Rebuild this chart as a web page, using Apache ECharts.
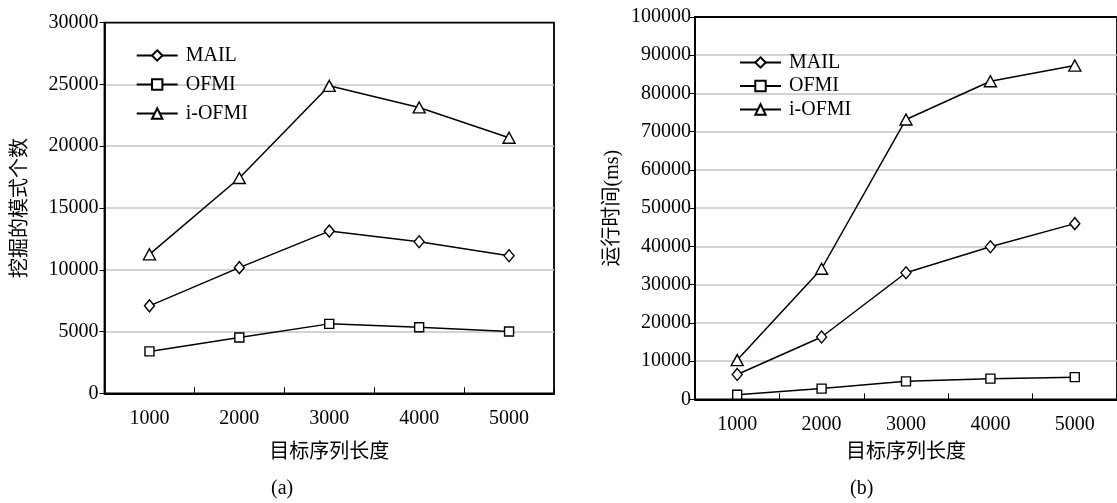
<!DOCTYPE html>
<html>
<head>
<meta charset="utf-8">
<script src="https://cdn.jsdelivr.net/npm/echarts@6/dist/echarts.min.js"></script>
<style>
html,body{margin:0;padding:0;background:#fff;}
#c{width:1117px;height:503px;}
</style>
</head>
<body>
<div id="c"></div>
<script>
const categories = ['1000', '2000', '3000', '4000', '5000'];
const seriesNames = ['MAIL', 'OFMI', 'i-OFMI'];
// (a) number of mined patterns
const countMAIL  = [7080, 10170, 13130, 12270, 11140];
const countOFMI  = [3390, 4520, 5620, 5350, 5000];
const countIOFMI = [11250, 17430, 24890, 23140, 20690];
// (b) running time (ms)
const timeMAIL  = [6500, 16300, 33100, 39900, 45950];
const timeOFMI  = [1200, 2800, 4700, 5400, 5800];
const timeIOFMI = [10250, 34150, 73200, 83200, 87300];

const yNameA = '挖掘的模式个数';
const yNameB = '运行时间(ms)';
const xName = '目标序列长度';

const FONT = '"Liberation Serif", "Noto Sans CJK SC", serif';
const FS = 20;
const symbols = {'MAIL': ['diamond', [10, 12]], 'OFMI': ['rect', [9, 9]], 'i-OFMI': ['triangle', [12, 11]]};

function mkSeries(name, data, idx) {
  return {
    name: name, type: 'line', xAxisIndex: idx, yAxisIndex: idx, data: data,
    symbol: symbols[name][0], symbolSize: symbols[name][1], showAllSymbol: true,
    lineStyle: {color: '#000', width: 1.5},
    itemStyle: {color: '#fff', borderColor: '#000', borderWidth: 1.4},
    emphasis: {disabled: true}, animation: false, z: 3
  };
}

function xAxis(idx, gap) {
  return {
    type: 'category', gridIndex: idx, data: categories, boundaryGap: true,
    name: xName, nameLocation: 'middle', nameGap: gap,
    nameTextStyle: {fontFamily: FONT, fontSize: FS, color: '#000'},
    axisLine: {lineStyle: {color: '#000', width: 1.8}},
    axisTick: {show: true, inside: true, length: 6, lineStyle: {color: '#000', width: 1}},
    axisLabel: {fontFamily: FONT, fontSize: FS, color: '#000', margin: 15},
    splitLine: {show: false}
  };
}
function yAxis(idx, max, interval, name, gap, margin) {
  return {
    type: 'value', gridIndex: idx, min: 0, max: max, interval: interval,
    name: name, nameLocation: 'middle', nameGap: gap,
    nameTextStyle: {fontFamily: FONT, fontSize: FS, color: '#000'},
    axisLine: {show: true, lineStyle: {color: '#000', width: 1.8}},
    axisTick: {show: true, inside: false, length: 5, lineStyle: {color: '#000', width: 1}},
    axisLabel: {fontFamily: FONT, fontSize: FS, color: '#000', margin: margin, formatter: function (v) { return String(v); }},
    splitLine: {show: true, showMinLine: false, showMaxLine: false, lineStyle: {color: '#c4c4c4', width: 1.5}}
  };
}

const chart = echarts.init(document.getElementById('c'), null, {renderer: 'canvas'});
chart.setOption({
  animation: false,
  backgroundColor: '#fff',
  grid: [
    {left: 104.5, top: 22.7, width: 449.5, height: 370.6, show: true, borderColor: '#000', borderWidth: 1.8, backgroundColor: 'transparent'},
    {left: 695, top: 17, width: 426, height: 382.3, show: true, borderColor: '#000', borderWidth: 1.8, backgroundColor: 'transparent'}
  ],
  legend: [
    {data: seriesNames, orient: 'vertical', left: 130.7, top: 40.5, itemWidth: 41, itemHeight: 13, itemGap: 9,
     textStyle: {fontFamily: FONT, fontSize: FS, color: '#000', padding: [0, 0, 0, 3]}, selectedMode: false},
    {data: seriesNames, orient: 'vertical', left: 734, top: 47.5, itemWidth: 41, itemHeight: 13, itemGap: 3.5,
     textStyle: {fontFamily: FONT, fontSize: FS, color: '#000', padding: [0, 0, 0, 3]}, selectedMode: false}
  ],
  xAxis: [xAxis(0, 49), xAxis(1, 43)],
  yAxis: [yAxis(0, 30000, 5000, yNameA, 74, 6), yAxis(1, 100000, 10000, yNameB, 72, 4)],
  series: [
    mkSeries('MAIL', countMAIL, 0), mkSeries('OFMI', countOFMI, 0), mkSeries('i-OFMI', countIOFMI, 0),
    mkSeries('MAIL', timeMAIL, 1), mkSeries('OFMI', timeOFMI, 1), mkSeries('i-OFMI', timeIOFMI, 1)
  ],
  graphic: [
    {type: 'text', left: 271, top: 479, style: {text: '(a)', font: '20px "Liberation Serif"', fill: '#000'}},
    {type: 'text', left: 850, top: 479, style: {text: '(b)', font: '20px "Liberation Serif"', fill: '#000'}}
  ]
});
</script>
</body>
</html>
